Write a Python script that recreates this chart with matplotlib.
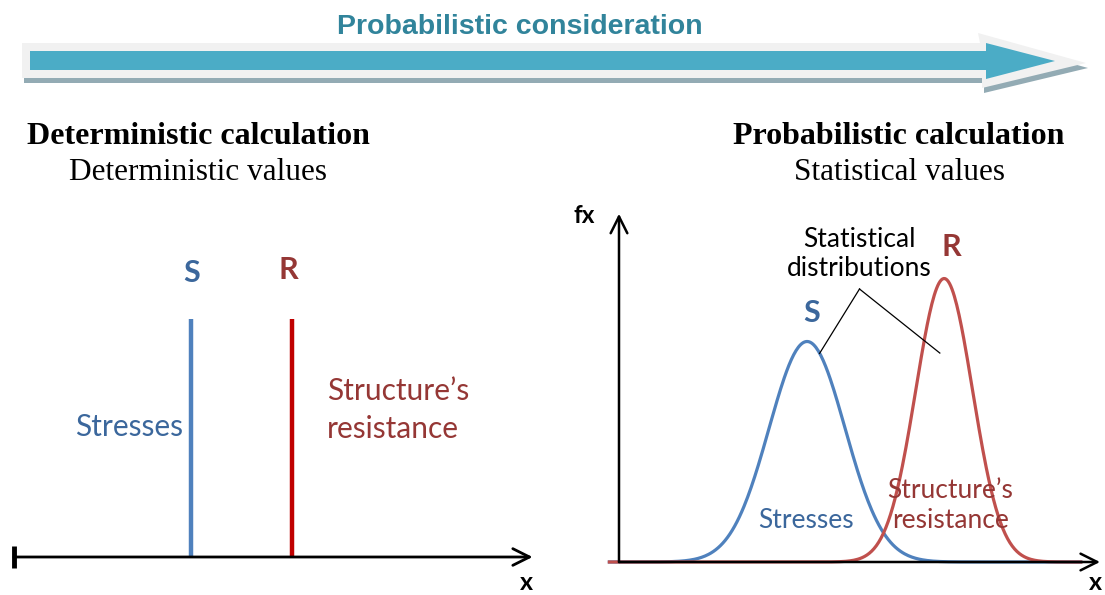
"""
Deterministic vs probabilistic calculation diagram
"""

import matplotlib
matplotlib.use("Agg")
import matplotlib.pyplot as plt
from matplotlib.patches import Polygon
import numpy as np

W, H = 1105, 595

# Left panel: deterministic values on the x axis
det_labels = ["S", "R"]
det_values = [3.43, 5.39]
det_height = 0.68

# Right panel: statistical distributions (mean, sigma, peak height)
dist_labels = ["S", "R"]
dist_means = [3.91, 6.76]
dist_sigmas = [0.79, 0.59]
dist_peaks = [0.63, 0.81]
x_grid = np.linspace(-0.2, 9.6, 400)

BLUE_LINE = "#4f81bd"
BLUE_TEXT = "#3b679c"
RED_LINE = "#c00000"
RED_CURVE = "#c0504d"
RED_TEXT = "#953735"

SANS = ["Lato", "DejaVu Sans"]
SERIF = ["Liberation Serif", "DejaVu Serif"]


def panel_axes(fig, px0, px1, py0, py1, ox, oy, sx, sy):
    # axes placed by pixel box; data x = (px-ox)/sx, y = (oy-py)/sy
    ax = fig.add_axes([px0 / W, 1 - py1 / H, (px1 - px0) / W, (py1 - py0) / H])
    ax.set_xlim((px0 - ox) / sx, (px1 - ox) / sx)
    ax.set_ylim((oy - py1) / sy, (oy - py0) / sy)
    ax.axis("off")
    return ax


def gauss(x, mu, sig, peak):
    return peak * np.exp(-0.5 * ((x - mu) / sig) ** 2)


fig = plt.figure(figsize=(W / 100, H / 100), dpi=100)

# Overlay in pixel coordinates for banner and headings
top = fig.add_axes([0, 0, 1, 1])
top.set_xlim(0, W)
top.set_ylim(H, 0)
top.axis("off")

outer = [(22, 43), (980, 43), (978, 33), (1086, 63), (982, 88), (982, 78), (22, 78)]
shadow = [(x + 2, y + 5) for x, y in outer]
inner = [(30, 51), (986, 51), (986, 43), (1055, 61), (986, 79), (986, 70), (30, 70)]
top.add_patch(Polygon(shadow, closed=True, fc="#93abb4", ec="none"))
top.add_patch(Polygon(outer, closed=True, fc="#f1f1f1", ec="none"))
top.add_patch(Polygon(inner, closed=True, fc="#4bacc6", ec="none"))
top.text(520, 27, "Probabilistic consideration", ha="center", va="center",
         fontsize=20.5, fontweight="bold", color="#31849b",
         family=["Liberation Sans", "DejaVu Sans"])

top.text(198, 137, "Deterministic calculation", ha="center", va="center",
         fontsize=23, fontweight="bold", family=SERIF)
top.text(198, 173, "Deterministic values", ha="center", va="center",
         fontsize=22.5, family=SERIF)
top.text(899, 137, "Probabilistic calculation", ha="center", va="center",
         fontsize=23, fontweight="bold", family=SERIF)
top.text(899, 173, "Statistical values", ha="center", va="center",
         fontsize=22.5, family=SERIF)

# ---- Left panel ----
axl = panel_axes(fig, 0, 560, 200, 595, 14, 557, 51.6, 350)
axl.annotate("", xy=(10.05, 0), xytext=(0, 0),
             arrowprops=dict(arrowstyle="->,head_length=0.6,head_width=0.3",
                             lw=2, color="black", mutation_scale=20,
                             shrinkA=0, shrinkB=0))
axl.plot([0, 0], [-0.031, 0.031], color="black", lw=3.5, solid_capstyle="butt")
axl.vlines(det_values, 0, det_height, colors=[BLUE_LINE, RED_LINE], lw=3.2)
axl.text(det_values[0] + 0.02, det_height + 0.13, det_labels[0], ha="center",
         va="center", fontsize=22, fontweight="bold", color=BLUE_TEXT, family=SANS)
axl.text(det_values[1] - 0.07, det_height + 0.14, det_labels[1], ha="center",
         va="center", fontsize=22, fontweight="bold", color=RED_TEXT, family=SANS)
axl.text(det_values[0] - 0.15, 0.37, "Stresses", ha="right", va="center",
         fontsize=21.5, color=BLUE_TEXT, family=SANS)
axl.text(det_values[1] + 0.68, 0.42, "Structure\u2019s\nresistance", ha="left",
         va="center", fontsize=21.5, color=RED_TEXT, family=SANS, linespacing=1.45)
axl.text(9.93, -0.072, "x", ha="center", va="center", fontsize=18,
         fontweight="bold", family=SANS)

# ---- Right panel ----
axr = panel_axes(fig, 560, 1105, 195, 595, 619, 562, 48.1, 350)
axr.annotate("", xy=(10.0, 0), xytext=(0, 0),
             arrowprops=dict(arrowstyle="->,head_length=0.6,head_width=0.3",
                             lw=1.8, color="black", mutation_scale=20,
                             shrinkA=0, shrinkB=0))
axr.annotate("", xy=(0, 0.995), xytext=(0, 0),
             arrowprops=dict(arrowstyle="->,head_length=0.6,head_width=0.3",
                             lw=1.8, color="black", mutation_scale=20,
                             shrinkA=0, shrinkB=0))
axr.text(-0.73, 0.99, "fx", ha="center", va="center", fontsize=17.5,
         fontweight="bold", family=SANS)
axr.text(9.9, -0.058, "x", ha="center", va="center", fontsize=18,
         fontweight="bold", family=SANS)

axr.plot(x_grid, gauss(x_grid, dist_means[0], dist_sigmas[0], dist_peaks[0]),
         color=BLUE_LINE, lw=2.3)
axr.plot(x_grid, gauss(x_grid, dist_means[1], dist_sigmas[1], dist_peaks[1]),
         color=RED_CURVE, lw=2.3)

axr.text(dist_means[0] + 0.1, dist_peaks[0] + 0.08, dist_labels[0], ha="center",
         va="center", fontsize=22, fontweight="bold", color=BLUE_TEXT, family=SANS)
axr.text(dist_means[1] + 0.14, dist_peaks[1] + 0.09, dist_labels[1], ha="center",
         va="center", fontsize=22, fontweight="bold", color=RED_TEXT, family=SANS)
axr.text(dist_means[0] - 0.03, 0.12, "Stresses", ha="center", va="center",
         fontsize=19, color=BLUE_TEXT, family=SANS)
axr.text(dist_means[1] + 0.13, 0.16, "Structure\u2019s\nresistance", ha="center",
         va="center", fontsize=19, color=RED_TEXT, family=SANS, linespacing=1.25)
axr.text(5.0, 0.88, "Statistical\ndistributions", ha="center", va="center",
         fontsize=19, color="black", family=SANS, linespacing=1.2)

# leader lines from the label to both curves
apex = (5.0, 0.78)
axr.plot([apex[0], 4.17], [apex[1], 0.596], color="black", lw=0.9)
axr.plot([apex[0], 6.67], [apex[1], 0.597], color="black", lw=0.9)

plt.savefig("out.png", dpi=100)
